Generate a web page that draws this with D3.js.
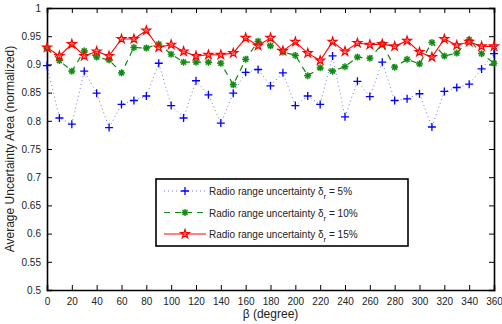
<!DOCTYPE html>
<html>
<head>
<meta charset="utf-8">
<script src="https://cdn.jsdelivr.net/npm/d3@7"></script>
<style>
  body { margin: 0; background: #fff; }
  svg text { font-family: "Liberation Sans", Arial, sans-serif; fill: #222; }
</style>
</head>
<body>
<div id="chart"></div>
<script>
// Data (beta in degrees, 0..360 step 10)
var beta = d3.range(0, 361, 10);
var unc5 = [0.898, 0.805, 0.794, 0.888, 0.849, 0.788, 0.829, 0.836, 0.844, 0.902,
            0.827, 0.805, 0.871, 0.846, 0.796, 0.849, 0.886, 0.891, 0.862, 0.885,
            0.827, 0.844, 0.829, 0.915, 0.807, 0.870, 0.843, 0.904, 0.836, 0.839,
            0.848, 0.789, 0.852, 0.859, 0.865, 0.892, 0.919];
var unc10 = [0.928, 0.907, 0.888, 0.924, 0.913, 0.908, 0.885, 0.930, 0.929, 0.936,
             0.918, 0.904, 0.904, 0.904, 0.902, 0.864, 0.909, 0.941, 0.933, 0.922,
             0.916, 0.880, 0.894, 0.888, 0.896, 0.913, 0.911, 0.936, 0.895, 0.909,
             0.901, 0.939, 0.915, 0.920, 0.944, 0.919, 0.902];
var unc15 = [0.930, 0.915, 0.936, 0.915, 0.923, 0.915, 0.945, 0.945, 0.960, 0.930,
             0.935, 0.923, 0.915, 0.917, 0.917, 0.920, 0.947, 0.933, 0.947, 0.924,
             0.940, 0.920, 0.907, 0.940, 0.923, 0.938, 0.935, 0.936, 0.932, 0.942,
             0.922, 0.913, 0.945, 0.934, 0.940, 0.932, 0.932];
var xTicks = d3.range(0, 361, 20);
var yTicks = d3.range(0.5, 1.0001, 0.05);
var seriesNames = ["5%", "10%", "15%"];

var svgWidth = 502;
var svgHeight = 324;
var margin = { top: 8, right: 8, bottom: 34, left: 47 };
var width = svgWidth - margin.left - margin.right;
var height = svgHeight - margin.top - margin.bottom;

var svg = d3.select("#chart").append("svg")
    .attr("width", svgWidth)
    .attr("height", svgHeight);
var chart = svg.append("g")
    .attr("transform", "translate(" + margin.left + "," + margin.top + ")");

var x = d3.scaleLinear().domain([0, 360]).range([0, width]);
var y = d3.scaleLinear().domain([0.5, 1]).range([height, 0]);

// axes with inward ticks, MATLAB style
chart.append("g")
    .attr("transform", "translate(0," + height + ")")
    .call(d3.axisBottom(x).tickValues(xTicks).tickSize(-5).tickPadding(8).tickFormat(d3.format("d")));
chart.append("g")
    .call(d3.axisTop(x).tickValues(xTicks).tickSize(-5).tickFormat(""));
chart.append("g")
    .call(d3.axisLeft(y).tickValues(yTicks).tickSize(-5).tickPadding(6).tickFormat(function (d) {
        return d3.format("~g")(+d.toFixed(2));
    }));
chart.append("g")
    .attr("transform", "translate(" + width + ",0)")
    .call(d3.axisRight(y).tickValues(yTicks).tickSize(-5).tickFormat(""));

chart.selectAll(".domain").attr("stroke", "#000").attr("stroke-width", 1.6);
chart.selectAll(".tick line").attr("stroke", "#000");
chart.selectAll(".tick text").style("font-size", "10px").attr("fill", "#222");

var series = [
    { values: unc5, color: "#0000ff", dash: "1,3", width: 1, marker: "plus", lineOpacity: 0.55 },
    { values: unc10, color: "#108a10", dash: "6,5", width: 1.2, marker: "asterisk", lineOpacity: 1 },
    { values: unc15, color: "#ff0000", dash: null, width: 1.1, marker: "star", lineOpacity: 1 }
];

var line = d3.line()
    .x(function (d) { return x(d[0]); })
    .y(function (d) { return y(d[1]); });

var star = d3.symbol().type(d3.symbolStar).size(24);

function drawMarker(g, type, color) {
    if (type === "plus") {
        g.append("path").attr("d", "M-4,0H4M0,-4V4").attr("stroke", color).attr("stroke-width", 1.3);
    } else if (type === "asterisk") {
        g.append("circle").attr("r", 3.2).attr("fill", color).attr("opacity", 0.4);
        g.append("path").attr("d", "M-3.5,0H3.5M0,-3.5V3.5M-2.5,-2.5L2.5,2.5M-2.5,2.5L2.5,-2.5")
            .attr("stroke", color).attr("stroke-width", 1.2);
    } else {
        g.append("path").attr("d", star).attr("fill", "#ff6666").attr("fill-opacity", 0.5)
            .attr("stroke", color).attr("stroke-width", 1.2);
    }
}

series.forEach(function (s) {
    var pts = beta.map(function (b, i) { return [b, s.values[i]]; });
    chart.append("path")
        .datum(pts)
        .attr("fill", "none")
        .attr("stroke", s.color)
        .attr("stroke-width", s.width)
        .attr("stroke-opacity", s.lineOpacity)
        .attr("stroke-dasharray", s.dash)
        .attr("d", line);
    pts.forEach(function (p) {
        var g = chart.append("g").attr("transform", "translate(" + x(p[0]) + "," + y(p[1]) + ")");
        drawMarker(g, s.marker, s.color);
    });
});

// legend
var legend = svg.append("g").attr("transform", "translate(156,179)");
legend.append("rect")
    .attr("width", 252).attr("height", 67)
    .attr("fill", "#fff").attr("stroke", "#000").attr("stroke-width", 1.6);
series.forEach(function (s, i) {
    var ly = 12 + i * 21.5;
    legend.append("line")
        .attr("x1", 8).attr("x2", 50).attr("y1", ly).attr("y2", ly)
        .attr("stroke", s.color).attr("stroke-width", s.width)
        .attr("stroke-opacity", s.lineOpacity)
        .attr("stroke-dasharray", s.dash);
    drawMarker(legend.append("g").attr("transform", "translate(29," + ly + ")"), s.marker, s.color);
    var t = legend.append("text")
        .attr("x", 53).attr("y", ly + 4)
        .style("font-size", "10px");
    t.append("tspan").text("Radio range uncertainty \u03b4");
    t.append("tspan").attr("dy", 4).style("font-size", "8px").text("r");
    t.append("tspan").attr("dy", -4).text(" = " + seriesNames[i]);
});

// axis labels
svg.append("text")
    .attr("x", margin.left + width / 2)
    .attr("y", 318)
    .attr("text-anchor", "middle")
    .style("font-size", "12px")
    .text("\u03b2 (degree)");
svg.append("text")
    .attr("transform", "translate(14," + (margin.top + height / 2) + ") rotate(-90)")
    .attr("text-anchor", "middle")
    .style("font-size", "12px")
    .text("Average Uncertainty Area (normalized)");
</script>
</body>
</html>
